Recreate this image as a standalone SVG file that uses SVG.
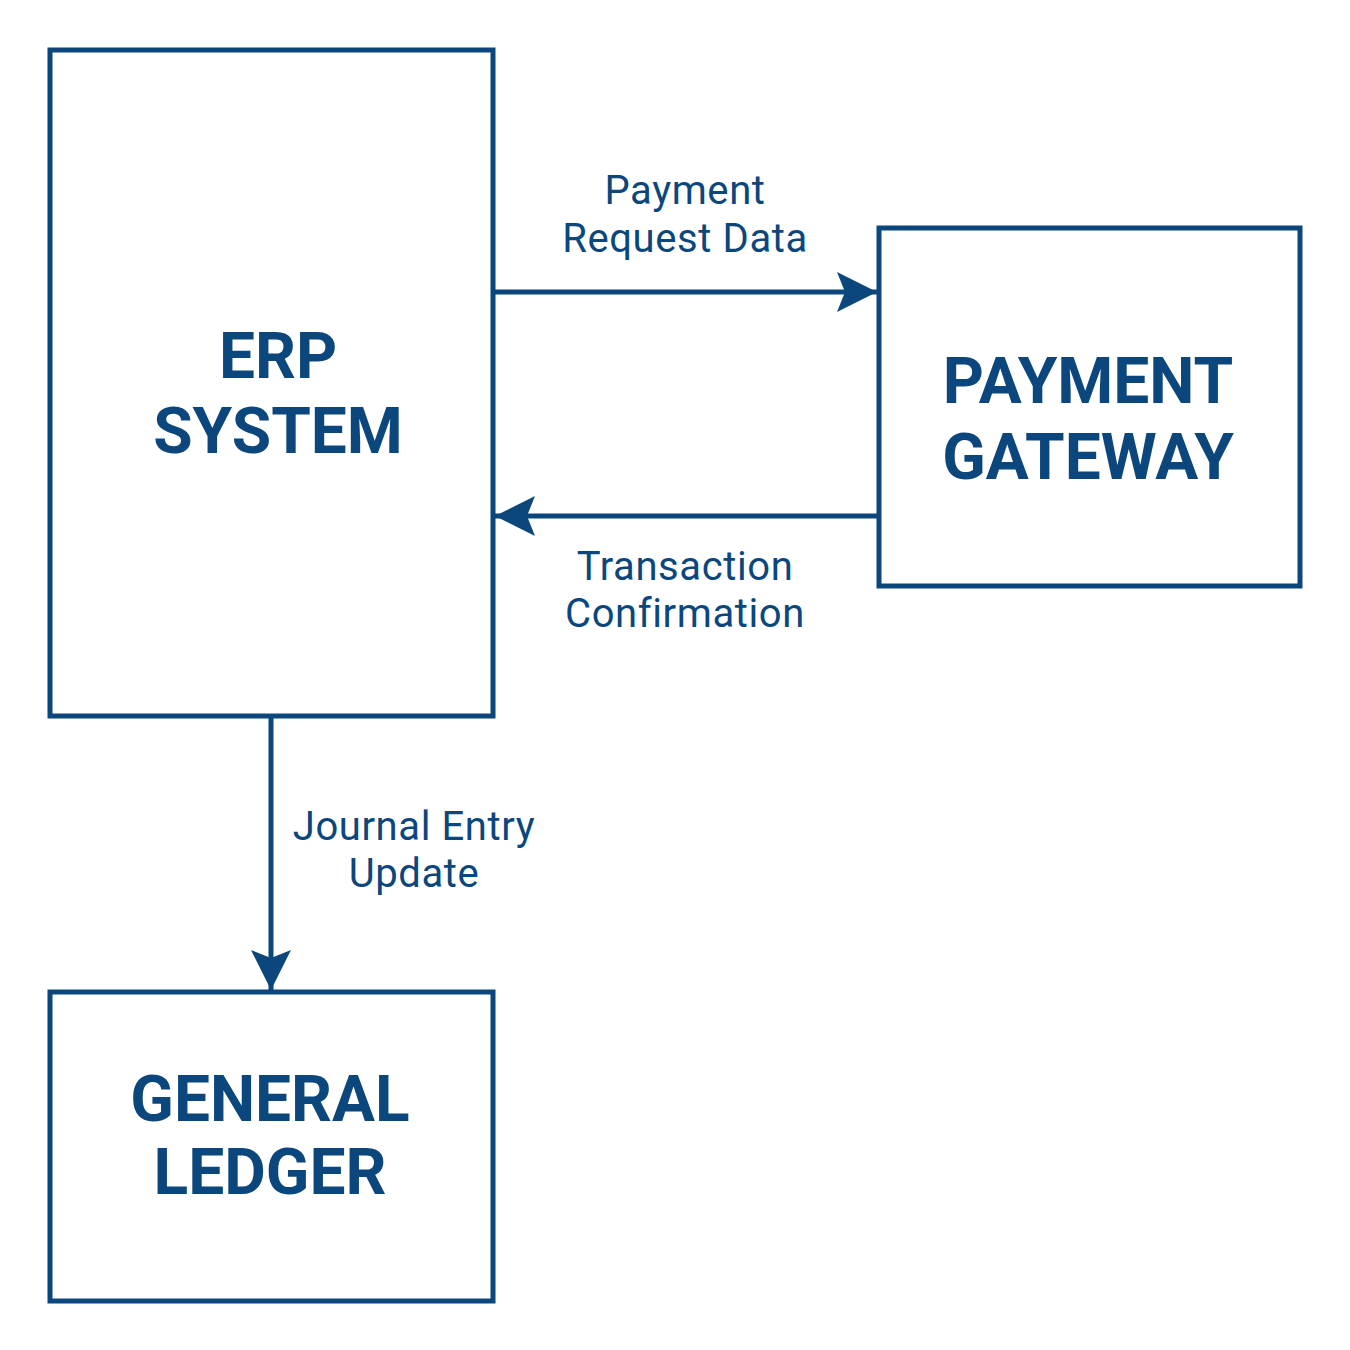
<svg xmlns="http://www.w3.org/2000/svg" width="1350" height="1350" viewBox="0 0 1350 1350">
<defs>
<style>
.box{fill:#fff;stroke:#0b477c;stroke-width:5}
.title{font-family:Roboto,"Liberation Sans",sans-serif;font-weight:bold;font-size:64px;fill:#0b477c;text-anchor:middle}
.lbl{font-family:Roboto,"Liberation Sans",sans-serif;font-size:40px;letter-spacing:0.6px;fill:#0b477c;text-anchor:middle}
.conn{stroke:#0b477c;stroke-width:5;fill:none}
</style>
<marker id="ah" viewBox="0 0 40 40" refX="40" refY="20" markerWidth="40" markerHeight="40" markerUnits="userSpaceOnUse" orient="auto">
<path d="M0,0 L40,20 L0,40 L8,20 Z" fill="#0b477c"/>
</marker>
</defs>
<rect width="1350" height="1350" fill="#fff"/>
<g id="connectors">
<line class="conn" x1="493" y1="292" x2="877" y2="292" marker-end="url(#ah)"/>
<line class="conn" x1="879" y1="516" x2="495" y2="516" marker-end="url(#ah)"/>
<line class="conn" x1="271" y1="716" x2="271" y2="990" marker-end="url(#ah)"/>
<text class="lbl" x="685" y="204">Payment</text>
<text class="lbl" x="685" y="252">Request Data</text>
<text class="lbl" x="685" y="580">Transaction</text>
<text class="lbl" x="685" y="627">Confirmation</text>
<text class="lbl" x="414" y="840">Journal Entry</text>
<text class="lbl" x="414" y="887">Update</text>
</g>
<g id="erp">
<rect class="box" x="50" y="50" width="443" height="666"/>
<text class="title" x="278" y="378">ERP</text>
<text class="title" x="278" y="453">SYSTEM</text>
</g>
<g id="gateway">
<rect class="box" x="879" y="228" width="421" height="358"/>
<text class="title" x="1088" y="403">PAYMENT</text>
<text class="title" x="1088" y="479">GATEWAY</text>
</g>
<g id="ledger">
<rect class="box" x="50" y="992" width="443" height="309"/>
<text class="title" x="270" y="1121">GENERAL</text>
<text class="title" x="270" y="1194">LEDGER</text>
</g>
</svg>
